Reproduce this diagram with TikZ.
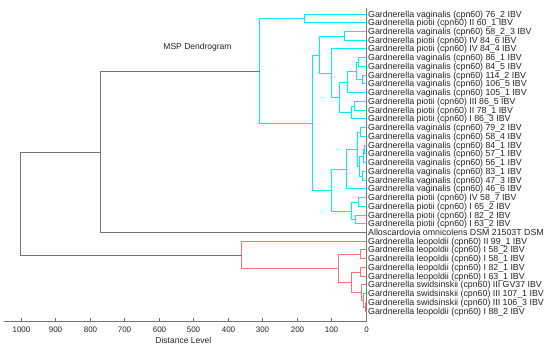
\documentclass[tikz,border=0pt]{standalone}
\usepackage{fontspec}
\setmainfont{Liberation Sans}
\usetikzlibrary{calc}
\definecolor{cyanline}{RGB}{0,238,250}
\definecolor{redline}{RGB}{250,115,115}
\definecolor{grayline}{RGB}{115,115,115}
\definecolor{textcol}{RGB}{35,35,35}
\newdimen\dendrody
\newcommand\dendronode[5]{%
  \coordinate (n#1m) at ($(#3)!0.5!(#4)$);
  \pgfextracty{\dendrody}{\pgfpointanchor{n#1m}{center}}%
  \pgfmathsetmacro\dendroyv{floor(0-\dendrody)+0.5}%
  \coordinate (#1) at (#2,\dendroyv);
  \draw[#5] (#1) |- (#3);
  \draw[#5] (#1) |- (#4);
}
\tikzset{
  lab/.style={anchor=west, inner sep=0pt, font=\fontsize{8.8}{10}\selectfont, text=textcol, text height=6.4pt, text depth=0pt},
  ticklab/.style={inner sep=0pt, font=\fontsize{8}{9}\selectfont, text=textcol},
  ttl/.style={inner sep=0pt, font=\fontsize{8.5}{9}\selectfont, text=textcol},
  cyb/.style={draw=cyanline, line width=1.4pt},
  rdb/.style={draw=redline, line width=1.4pt},
  gyb/.style={draw=grayline, line width=1pt},
}
\begin{document}
\begin{tikzpicture}[x=1pt,y=-1pt]
\useasboundingbox (0,0) rectangle (550,351);
% leaves and labels
\foreach \i/\t in {
 1/{Gardnerella vaginalis (cpn60) 76\_2 IBV},
 2/{Gardnerella piotii (cpn60) II 60\_1 IBV},
 3/{Gardnerella vaginalis (cpn60) 58\_2\_3 IBV},
 4/{Gardnerella piotii (cpn60) IV 84\_6 IBV},
 5/{Gardnerella piotii (cpn60) IV 84\_4 IBV},
 6/{Gardnerella vaginalis (cpn60) 86\_1 IBV},
 7/{Gardnerella vaginalis (cpn60) 84\_5 IBV},
 8/{Gardnerella vaginalis (cpn60) 114\_2 IBV},
 9/{Gardnerella vaginalis (cpn60) 106\_5 IBV},
 10/{Gardnerella vaginalis (cpn60) 105\_1 IBV},
 11/{Gardnerella piotii (cpn60) III 86\_5 IBV},
 12/{Gardnerella piotii (cpn60) II 78\_1 IBV},
 13/{Gardnerella piotii (cpn60) I 86\_3 IBV},
 14/{Gardnerella vaginalis (cpn60) 79\_2 IBV},
 15/{Gardnerella vaginalis (cpn60) 58\_4 IBV},
 16/{Gardnerella vaginalis (cpn60) 84\_1 IBV},
 17/{Gardnerella vaginalis (cpn60) 57\_1 IBV},
 18/{Gardnerella vaginalis (cpn60) 56\_1 IBV},
 19/{Gardnerella vaginalis (cpn60) 83\_1 IBV},
 20/{Gardnerella vaginalis (cpn60) 47\_3 IBV},
 21/{Gardnerella vaginalis (cpn60) 46\_6 IBV},
 22/{Gardnerella piotii (cpn60) IV 58\_7 IBV},
 23/{Gardnerella piotii (cpn60) I 65\_2 IBV},
 24/{Gardnerella piotii (cpn60) I 82\_2 IBV},
 25/{Gardnerella piotii (cpn60) I 63\_2 IBV},
 26/{Alloscardovia omnicolens DSM 21503T DSM},
 27/{Gardnerella leopoldii (cpn60) II 99\_1 IBV},
 28/{Gardnerella leopoldii (cpn60) I 58\_2 IBV},
 29/{Gardnerella leopoldii (cpn60) I 58\_1 IBV},
 30/{Gardnerella leopoldii (cpn60) I 82\_1 IBV},
 31/{Gardnerella leopoldii (cpn60) I 63\_1 IBV},
 32/{Gardnerella swidsinskii (cpn60) III GV37 IBV},
 33/{Gardnerella swidsinskii (cpn60) III 107\_1 IBV},
 34/{Gardnerella swidsinskii (cpn60) III 106\_3 IBV},
 35/{Gardnerella leopoldii (cpn60) I 88\_2 IBV}} {
  \coordinate (r\i) at (366.5,{floor(14+(\i-1)*8.74)+0.5});
  \node[lab] (t\i) at (368,{floor(14+(\i-1)*8.74)+0.5}) {\t};
}
% axis
\coordinate (vt) at (366.5,8);
\coordinate (axL) at (3.5,321.5);
\coordinate (axR) at (366.5,321.5);
\draw[gyb] (vt) -- (axR);
\draw[gyb] (axL) -- (axR);
\foreach \k [evaluate=\k as \v using int(100*\k)] in {0,...,10} {
  \coordinate (tk\k) at ({floor(366.5-34.53*\k)+0.5},321.5);
  \draw[draw=grayline, line width=1pt] (tk\k) -- ++(0,-3.5);
  \node[ticklab] (k\k) at ({floor(366.5-34.53*\k)+0.5},329.3) {\v};
}
\node[ttl] (xlab) at (183.3,340.7) {Distance Level};
\node[ttl] (title) at (197.5,47.3) {MSP Dendrogram};
% cyan cluster
\dendronode{cA}{304.5}{r1}{r2}{cyb}
\dendronode{cD}{344.5}{r3}{r4}{cyb}
\dendronode{cI}{358.5}{r6}{r7}{cyb}
\dendronode{cJ}{362.5}{r8}{r9}{cyb}
\dendronode{cK}{356.5}{cI}{cJ}{cyb}
\dendronode{cG}{347.5}{cK}{r10}{cyb}
\dendronode{cM}{354.5}{r11}{r12}{cyb}
\dendronode{cH}{351.5}{cM}{r13}{cyb}
\dendronode{cF}{339.5}{cG}{cH}{cyb}
\dendronode{cE}{331.5}{r5}{cF}{cyb}
\dendronode{cC}{319.5}{cD}{cE}{cyb}
\dendronode{cYa}{360.5}{r14}{r15}{cyb}
\dendronode{cYe}{364.5}{r16}{r17}{cyb}
\dendronode{cYc}{363.5}{cYe}{r18}{cyb}
\dendronode{cYd}{362.5}{r19}{r20}{cyb}
\dendronode{cYb}{359.5}{cYc}{cYd}{cyb}
\dendronode{cX}{357.5}{cYa}{cYb}{cyb}
\dendronode{cN}{346.5}{cX}{r21}{cyb}
\dendronode{cPa}{358.5}{r22}{r23}{cyb}
\dendronode{cPb}{355.5}{r24}{r25}{cyb}
\dendronode{cP}{351.5}{cPa}{cPb}{cyb}
\dendronode{cL}{331.5}{cN}{cP}{cyb}
\dendronode{cB}{312.5}{cC}{cL}{cyb}
\dendronode{cRoot}{259.5}{cA}{cB}{cyb}
% red cluster
\dendronode{rR}{360.5}{r28}{r29}{rdb}
\dendronode{rT}{360.5}{r30}{r31}{rdb}
\dendronode{rW}{365.5}{r34}{r35}{rdb}
\dendronode{rV}{363.5}{r33}{rW}{rdb}
\dendronode{rU}{361.5}{r32}{rV}{rdb}
\dendronode{rS}{351.5}{rT}{rU}{rdb}
\dendronode{rQ}{338.5}{rR}{rS}{rdb}
\dendronode{rRoot}{241.5}{r27}{rQ}{rdb}
% gray top
\dendronode{gBk}{100.5}{cRoot}{r26}{gyb}
\dendronode{gRoot}{20.5}{gBk}{rRoot}{gyb}
\end{tikzpicture}
\end{document}
